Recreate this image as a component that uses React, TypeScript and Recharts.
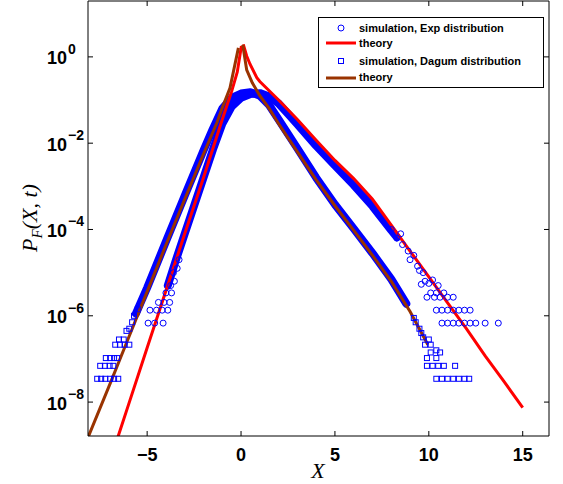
import { ComposedChart, Line, Scatter, XAxis, YAxis } from 'recharts'

// theory curves (x, log10 P)
const redLeftX = [-6.7, -6, -5, -4, -3, -2, -1, -0.5, -0.2, 0.02]
const redLeftLog = [-9.0, -8.07, -6.74, -5.42, -4.1, -2.8, -1.45, -0.8, -0.35, 0.25]
const redRightX = [0.12, 0.3, 0.48, 0.84, 1, 2, 3, 4, 5, 6, 7, 8, 9, 10, 11, 12, 13, 14, 15]
const redRightLog = [0.29, 0.02, -0.17, -0.48, -0.57, -1.0, -1.45, -1.93, -2.4, -2.82, -3.3, -3.9, -4.5, -5.1, -5.7, -6.3, -6.93, -7.52, -8.13]
const brownLeftX = [-8.3, -7, -6, -5, -4, -3, -2, -1.28, -1, -0.59, -0.14]
const brownLeftLog = [-8.98, -7.6, -6.52, -5.44, -4.36, -3.3, -2.25, -1.52, -1.18, -0.72, 0.21]
const brownRightX = [0.09, 0.3, 0.6, 1, 1.5, 2, 3, 4, 5, 6, 7, 8, 9, 9.95]
const brownRightLog = [0.28, -0.3, -0.6, -0.9, -1.2, -1.55, -2.2, -2.85, -3.45, -4.02, -4.6, -5.2, -5.9, -6.67]

// dense part of the simulations
const expSimX = [-3.9, -3.5, -3, -2.5, -2, -1.5, -1, -0.5, 0, 0.5, 1, 1.5, 2, 2.5, 3, 4, 5, 6, 7, 8, 8.3]
const expSimLog = [-5.3, -4.75, -4.1, -3.45, -2.8, -2.15, -1.55, -1.15, -0.95, -0.86, -0.84, -0.92, -1.08, -1.32, -1.56, -2.06, -2.52, -2.97, -3.46, -4.02, -4.18]
const dagSimX = [-5.6, -5, -4, -3, -2, -1.5, -1, -0.5, 0, 0.5, 1, 1.5, 2, 3, 4, 5, 6, 7, 8, 8.8]
const dagSimLog = [-5.95, -5.35, -4.28, -3.22, -2.17, -1.67, -1.2, -0.95, -0.85, -0.82, -0.9, -1.12, -1.45, -2.12, -2.8, -3.42, -3.98, -4.55, -5.15, -5.72]

// sparse tails of the simulations
const expTailX = [-4.95, -4.6, -4.15, -4.85, -4.5, -4.2, -3.9, -4.4, -4.1, -3.8, -4.0, -3.7, -3.75, -3.55, -3.6, -3.4, -3.3,
  8.0, 8.3, 8.5, 8.6, 8.9, 9.0, 9.2, 9.4, 9.5, 9.7, 9.8, 10.0, 10.2, 9.6, 10.5, 10.1, 10.4, 10.8, 9.9, 10.3, 10.6, 11.0, 11.3,
  10.4, 10.7, 11.0, 11.3, 11.6, 11.9, 12.2, 10.7, 11.0, 11.3, 11.6, 11.9, 12.2, 12.5, 13.0, 13.7]
const expTailLog = [-6.17, -6.17, -6.17, -5.87, -5.87, -5.87, -5.87, -5.69, -5.69, -5.69, -5.47, -5.47, -5.3, -5.2, -5.0, -4.9, -4.7,
  -4.0, -4.2, -4.1, -4.35, -4.5, -4.7, -4.6, -4.85, -4.95, -5.0, -5.2, -5.25, -5.17, -5.27, -5.3, -5.47, -5.47, -5.47, -5.57, -5.57, -5.57, -5.57, -5.57,
  -5.87, -5.87, -5.87, -5.87, -5.87, -5.87, -5.87, -6.17, -6.17, -6.17, -6.17, -6.17, -6.17, -6.17, -6.17, -6.17]
const dagTailX = [-7.66, -7.45, -7.23, -6.97, -6.76, -6.54, -7.5, -7.25, -7.0, -6.8, -7.2, -6.97, -6.76, -6.6, -6.7, -6.45, -6.2, -5.95,
  -6.5, -6.25, -6.1, -5.95, -5.8, -5.7, -5.5,
  10.4, 10.7, 11.0, 11.3, 11.6, 11.9, 12.15, 9.9, 10.2, 10.5, 10.8, 11.4, 9.9, 10.4, 10.1, 10.4, 10.6, 9.8, 10.1, 9.7, 10.0, 9.5, 9.6, 9.3, 9.2]
const dagTailLog = [-7.46, -7.46, -7.46, -7.46, -7.46, -7.46, -7.16, -7.16, -7.16, -7.16, -6.98, -6.98, -6.98, -6.98, -6.67, -6.67, -6.67, -6.67,
  -6.55, -6.55, -6.35, -6.3, -6.15, -6.0, -5.85,
  -7.46, -7.46, -7.46, -7.46, -7.46, -7.46, -7.46, -7.16, -7.16, -7.16, -7.16, -7.16, -6.98, -6.98, -6.85, -6.8, -6.85, -6.67, -6.67, -6.5, -6.55, -6.3, -6.4, -6.15, -6.05]

const xTicks = [-5, 0, 5, 10, 15]
const yTicks = [1e-8, 1e-6, 1e-4, 1e-2, 1]
const yTickExp = ['\u22128', '\u22126', '\u22124', '\u22122', '0']
const xDomain = [-8.15, 16.4]
const yDomain = [Math.pow(10, -8.786), Math.pow(10, 1.295)]

const pts = (xs: number[], ls: number[]) => xs.map((x, i) => ({ x, y: Math.pow(10, ls[i]) }))

const BLUE = '#0000ff'
const RED = '#ff0000'
const BROWN = '#993300'
const bold = { fontFamily: '"Liberation Sans", Arial, sans-serif', fontWeight: 700 }
const serif = '"Liberation Serif", "Times New Roman", serif'

const XTick = (p: any) => (
  <g>
    <line x1={p.x} x2={p.x} y1={p.y} y2={p.y - 5} stroke="#000" />
    <text x={p.x} y={p.y + 24.5} textAnchor="middle" fontSize={18} style={bold}>
      {p.payload.value < 0 ? '\u2212' + Math.abs(p.payload.value) : p.payload.value}
    </text>
  </g>
)

const YTick = (p: any) => {
  const i = yTicks.indexOf(p.payload.value)
  return (
    <g>
      <line x1={p.x} x2={p.x + 5} y1={p.y} y2={p.y} stroke="#000" />
      <text x={67} y={p.y + 7.5} textAnchor="end" fontSize={18} style={bold}>10</text>
      <text x={68} y={p.y - 3} fontSize={14} style={bold}>{yTickExp[i]}</text>
    </g>
  )
}

const TopTick = (p: any) => <line x1={p.x} x2={p.x} y1={1} y2={6} stroke="#000" />
const RightTick = (p: any) => <line x1={549} x2={544} y1={p.y} y2={p.y} stroke="#000" />

const circle = (p: any) => <circle cx={p.cx} cy={p.cy} r={3} fill="none" stroke={BLUE} strokeWidth={1} />
const square = (p: any) => <rect x={p.cx - 2.5} y={p.cy - 2.5} width={5} height={5} fill="none" stroke={BLUE} strokeWidth={1} />

export default function App() {
  return (
    <div style={{ position: 'absolute', left: 0, top: 0, width: 563, height: 484, background: '#fff' }}>
      <ComposedChart width={563} height={484} margin={{ top: 0, right: 13, bottom: 8, left: 8 }}>
        <XAxis xAxisId="b" type="number" dataKey="x" domain={xDomain} allowDataOverflow ticks={xTicks}
          height={40} tickSize={0} tickMargin={0} tickLine={false} tick={XTick} stroke="#000" />
        <XAxis xAxisId="t" orientation="top" type="number" dataKey="x" domain={xDomain} allowDataOverflow ticks={xTicks}
          height={1} tickSize={0} tickMargin={0} tickLine={false} tick={TopTick} stroke="#000" />
        <YAxis yAxisId="l" type="number" dataKey="y" scale="log" domain={yDomain}
          allowDataOverflow ticks={yTicks} width={80} tickSize={0} tickMargin={0} tickLine={false} tick={YTick} stroke="#000" />
        <YAxis yAxisId="r" orientation="right" type="number" dataKey="y" scale="log" domain={yDomain}
          allowDataOverflow ticks={yTicks} width={1} tickSize={0} tickMargin={0} tickLine={false} tick={RightTick} stroke="#000" />

        <Line xAxisId="b" yAxisId="l" data={pts(expSimX, expSimLog)} dataKey="y" stroke={BLUE} strokeWidth={8}
          strokeLinejoin="round" strokeLinecap="round" dot={false} isAnimationActive={false} />
        <Line xAxisId="b" yAxisId="l" data={pts(dagSimX, dagSimLog)} dataKey="y" stroke={BLUE} strokeWidth={8}
          strokeLinejoin="round" strokeLinecap="round" dot={false} isAnimationActive={false} />
        <Scatter xAxisId="t" yAxisId="r" data={pts(expTailX, expTailLog)} shape={circle} isAnimationActive={false} />
        <Scatter xAxisId="t" yAxisId="r" data={pts(dagTailX, dagTailLog)} shape={square} isAnimationActive={false} />

        <Line xAxisId="b" yAxisId="l" data={pts(redLeftX, redLeftLog)} dataKey="y" stroke={RED} strokeWidth={3}
          dot={false} isAnimationActive={false} />
        <Line xAxisId="b" yAxisId="l" data={pts(redRightX, redRightLog)} dataKey="y" stroke={RED} strokeWidth={3}
          dot={false} isAnimationActive={false} />
        <Line xAxisId="b" yAxisId="l" data={pts(brownLeftX, brownLeftLog)} dataKey="y" stroke={BROWN} strokeWidth={3}
          dot={false} isAnimationActive={false} />
        <Line xAxisId="b" yAxisId="l" data={pts(brownRightX, brownRightLog)} dataKey="y" stroke={BROWN} strokeWidth={3}
          dot={false} isAnimationActive={false} />
      </ComposedChart>
      <div style={{ position: 'absolute', left: 0, top: 0, pointerEvents: 'none' }}>
        <svg width={563} height={484}>
          <g transform="translate(318,17)">
            <rect x={0.5} y={0.5} width={225} height={70} fill="#fff" stroke="#000" />
            <circle cx={23} cy={11} r={3} fill="none" stroke={BLUE} />
            <text x={41} y={15} fontSize={11} style={bold}>simulation, Exp distribution</text>
            <line x1={8} x2={38} y1={26} y2={26} stroke={RED} strokeWidth={3} />
            <text x={41} y={30} fontSize={11} style={bold}>theory</text>
            <rect x={20.5} y={41.5} width={5} height={5} fill="none" stroke={BLUE} />
            <text x={41} y={48} fontSize={11} style={bold}>simulation, Dagum distribution</text>
            <line x1={8} x2={38} y1={61} y2={61} stroke={BROWN} strokeWidth={3} />
            <text x={41} y={64} fontSize={11} style={bold}>theory</text>
          </g>
          <text x={318} y={478} textAnchor="middle" fontSize={22} fontStyle="italic" fontFamily={serif}>X</text>
          <text transform="translate(37,218) rotate(-90)" textAnchor="middle" fontSize={22} fontStyle="italic" fontFamily={serif}>
            P<tspan fontSize={15} dy={5}>F</tspan><tspan dy={-5}>(X, t)</tspan>
          </text>
        </svg>
      </div>
    </div>
  )
}
